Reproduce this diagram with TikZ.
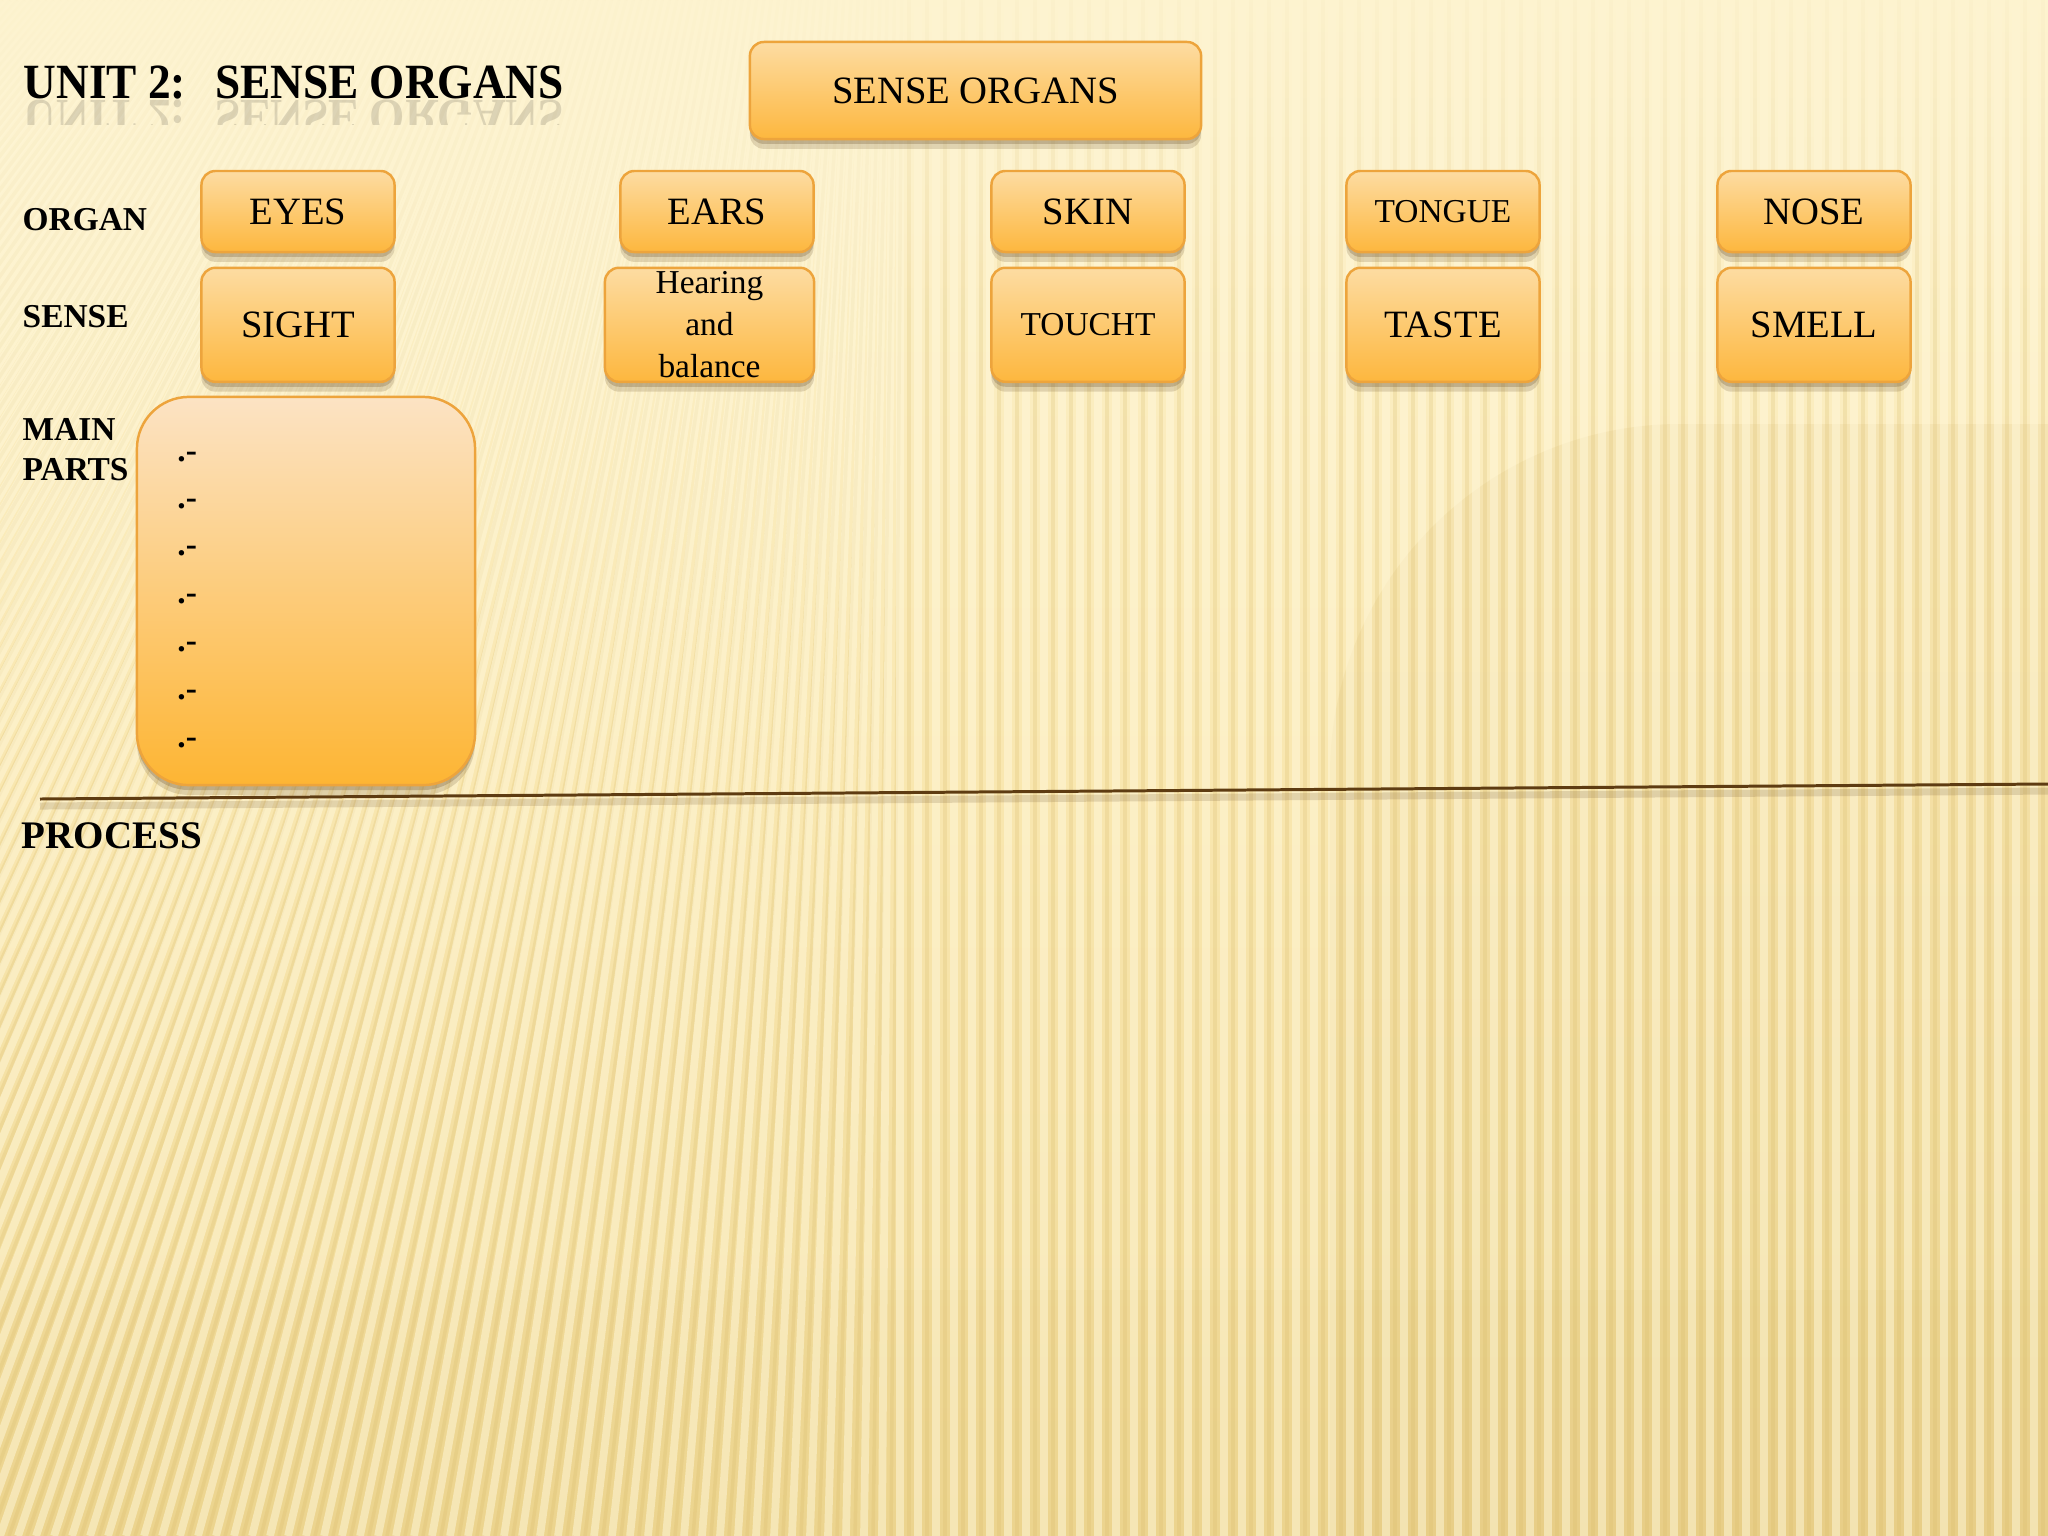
\documentclass[tikz,border=0pt]{standalone}
\usepackage{fontspec}
\setmainfont{Liberation Serif}
\usetikzlibrary{shadows,fadings}
\definecolor{bgtop}{HTML}{FDF3CF}
\definecolor{bgmid}{HTML}{F9E7B0}
\definecolor{bgbot}{HTML}{EFD894}
\definecolor{darkzone}{HTML}{C9A64A}
\definecolor{stripelight}{HTML}{FFF8DC}
\definecolor{stripedark}{HTML}{D6B866}
\definecolor{boxtop}{HTML}{FDDCA2}
\definecolor{boxbot}{HTML}{FDB73E}
\definecolor{bigtop}{HTML}{FCE3C4}
\definecolor{bigbot}{HTML}{FDB533}
\definecolor{boxedge}{HTML}{EDA43C}
\definecolor{linecol}{HTML}{5E3C12}
\definecolor{shadowcol}{HTML}{6E5430}
\tikzset{
  orgbox/.style={draw=boxedge, line width=0.7pt, rounded corners=0.14cm,
    top color=boxtop, bottom color=boxbot, align=center, inner sep=0pt,
    text=black, font=\fontsize{11}{13}\selectfont,
    drop shadow={shadow xshift=0pt, shadow yshift=-1.4pt, opacity=0.28, fill=shadowcol},
    drop shadow={shadow xshift=0pt, shadow yshift=-2.8pt, opacity=0.2, fill=shadowcol}},
  smalltext/.style={font=\fontsize{9.5}{11.9}\selectfont},
  rowbox/.style={orgbox, minimum width=1.93cm, minimum height=0.81cm},
  sensebox/.style={orgbox, minimum width=1.93cm, minimum height=1.14cm},
  rowlabel/.style={anchor=base west, inner sep=0pt, font=\bfseries\fontsize{9.5}{11.4}\selectfont},
  bullet/.style={anchor=base west, inner sep=0pt, font=\bfseries\fontsize{9.5}{11}\selectfont},
  titlefont/.style={font=\bfseries\fontsize{14}{16}\selectfont, xscale=0.92},
}
\begin{document}
\begin{tikzpicture}[x=0.01cm,y=-0.01cm]
\useasboundingbox (0,0) rectangle (2048,1536);
% background
\shade[top color=bgtop, bottom color=bgbot, middle color=bgmid] (0,0) rectangle (2048,1536);
\fill[darkzone, opacity=0.10, rounded corners=3.5cm] (1330,424) rectangle (2500,1900);
\fill[darkzone, opacity=0.07] (0,1290) rectangle (2048,1536);
\begin{scope}
  \clip (0,0) rectangle (2048,1536);
  \foreach \i in {-80,...,116} {
    \pgfmathsetmacro{\xb}{\i*18}
    \pgfmathsetmacro{\tl}{\xb<900 ? 0.35*(1-\xb/900) : 0}
    \pgfmathsetmacro{\xt}{\xb+\tl*1536}
    \draw[stripelight, line width=2.2pt, opacity=0.5] (\xb,1536) -- (\xt,0);
    \draw[stripedark, line width=1pt, opacity=0.22] (\xb+9,1536) -- (\xt+9,0);
  }
\end{scope}
\fill[bgtop, opacity=0.85, path fading=south] (0,0) rectangle (2048,330);

% title and its reflection
\node[titlefont, anchor=base west, inner sep=0pt] (title) at (23,98) {UNIT 2:\hspace{9pt}SENSE ORGANS};
\begin{scope}
  \clip (0,99) rectangle (620,124);
  \node[titlefont, anchor=base west, inner sep=0pt, yscale=-1, text opacity=0.13] (titlerefl) at (23,100) {UNIT 2:\hspace{9pt}SENSE ORGANS};
\end{scope}

% top box
\node[orgbox, minimum width=4.51cm, minimum height=0.97cm] (sense) at (975.5,90.5) {SENSE ORGANS};

% row labels
\node[rowlabel] (lorgan) at (22,230) {ORGAN};
\node[rowlabel] (lsense) at (22,327) {SENSE};
\node[rowlabel] (lmain) at (22,440) {MAIN};
\node[rowlabel] (lparts) at (22,480) {PARTS};
\node[anchor=base west, inner sep=0pt, font=\bfseries\fontsize{11.1}{13}\selectfont] (lprocess) at (21,848) {PROCESS};

% organ row
\node[rowbox] (eyes) at (298,211.5) {EYES};
\node[rowbox] (ears) at (717,211.5) {EARS};
\node[rowbox] (skin) at (1088,211.5) {SKIN};
\node[rowbox, smalltext] (tongue) at (1443,211.5) {TONGUE};
\node[rowbox] (nose) at (1814,211.5) {NOSE};

% sense row
\node[sensebox] (sight) at (298,324.8) {SIGHT};
\node[sensebox, minimum width=2.09cm, smalltext] (hearing) at (709.5,324.8) {Hearing\\and\\balance};
\node[sensebox, smalltext] (touch) at (1088,324.8) {TOUCHT};
\node[sensebox] (taste) at (1443,324.8) {TASTE};
\node[sensebox] (smell) at (1814,324.8) {SMELL};

% main parts box
\node[orgbox, rounded corners=0.52cm, top color=bigtop, bottom color=bigbot,
      minimum width=3.38cm, minimum height=3.88cm] (parts) at (306,591) {};
\node[bullet] (b1) at (176.7,461.7) {.-};
\node[bullet] (b2) at (176.7,508.3) {.-};
\node[bullet] (b3) at (176.7,555.7) {.-};
\node[bullet] (b4) at (176.7,603.3) {.-};
\node[bullet] (b5) at (176.7,651.7) {.-};
\node[bullet] (b6) at (176.7,699.3) {.-};
\node[bullet] (b7) at (176.7,747.3) {.-};

% divider line
\coordinate (lineL) at (40,799);
\coordinate (lineR) at (2048,784);
\draw[shadowcol, line width=2pt, opacity=0.18] ([yshift=-2pt]lineL) -- ([yshift=-2pt]lineR);
\draw[linecol, line width=0.85pt] (lineL) -- (lineR);
\end{tikzpicture}
\end{document}
